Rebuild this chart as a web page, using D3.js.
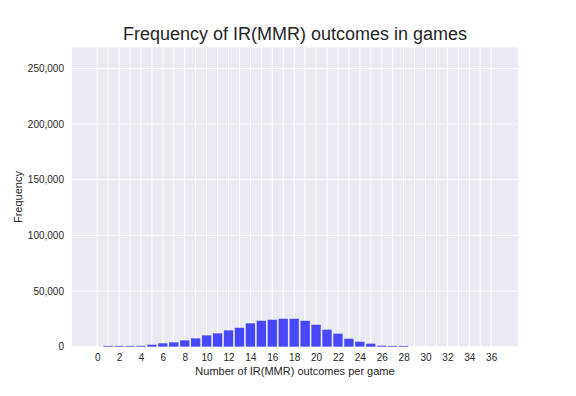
<!DOCTYPE html>
<html>
<head>
<meta charset="utf-8">
<script src="https://cdn.jsdelivr.net/npm/d3@7"></script>
<style>
    body { margin: 0; background: #fff; }
    text { font-family: "Liberation Sans", Arial, sans-serif; fill: #262626; }
</style>
</head>
<body>
<div id="main"></div>
<script>
const ctx = {
    w: 576,
    h: 396,
    left: 72,
    right: 518,
    top: 47.5,
    bottom: 346.7
};

// outcomes per game and how many games had that count
const outcomes = [1, 2, 3, 4, 5, 6, 7, 8, 9, 10, 11, 12, 13, 14, 15, 16, 17, 18,
    19, 20, 21, 22, 23, 24, 25, 26, 27, 28];
const frequency = [700, 700, 700, 800, 1800, 3000, 3900, 5700, 7500, 10200, 12000, 14700,
    17000, 21000, 23300, 24200, 25100, 25100, 23300, 19700, 15300, 11700, 7200,
    4500, 2700, 900, 700, 700];
const xGrid = d3.range(0, 37);
const xTickLabels = d3.range(0, 37, 2);
const yTicks = [0, 50000, 100000, 150000, 200000, 250000];

function createViz() {
    let svgEl = d3.select("#main").append("svg")
        .attr("width", ctx.w)
        .attr("height", ctx.h);

    let x = d3.scaleLinear().domain([-2.3, 38.45]).range([ctx.left, ctx.right]);
    let y = d3.scaleLinear().domain([0, 268800]).range([ctx.bottom, ctx.top]);

    svgEl.append("rect")
        .attr("x", ctx.left)
        .attr("y", ctx.top)
        .attr("width", ctx.right - ctx.left)
        .attr("height", ctx.bottom - ctx.top)
        .attr("fill", "#eaeaf2");

    // grid
    let gridG = svgEl.append("g").attr("id", "grid");
    gridG.selectAll("line.vgrid")
        .data(xGrid)
        .enter()
        .append("line")
        .attr("class", "vgrid")
        .attr("x1", d => x(d)).attr("x2", d => x(d))
        .attr("y1", ctx.top).attr("y2", ctx.bottom)
        .attr("stroke", "#fff")
        .attr("stroke-width", 1);
    gridG.selectAll("line.hgrid")
        .data(yTicks)
        .enter()
        .append("line")
        .attr("class", "hgrid")
        .attr("x1", ctx.left).attr("x2", ctx.right)
        .attr("y1", d => y(d)).attr("y2", d => y(d))
        .attr("stroke", "#fff")
        .attr("stroke-width", 1);

    // bars
    let bw = x(0.85) - x(0);
    svgEl.append("g").attr("id", "bars")
        .selectAll("rect")
        .data(outcomes)
        .enter()
        .append("rect")
        .attr("x", d => x(d) - bw / 2)
        .attr("width", bw)
        .attr("y", (d, i) => y(frequency[i]))
        .attr("height", (d, i) => y(0) - y(frequency[i]))
        .attr("fill", "#0000ff")
        .attr("fill-opacity", 0.7);

    // axes
    let xAxis = d3.axisBottom(x)
        .tickValues(xTickLabels)
        .tickSize(0)
        .tickPadding(7);
    let xG = svgEl.append("g")
        .attr("transform", `translate(0,${ctx.bottom})`)
        .call(xAxis);
    let yAxis = d3.axisLeft(y)
        .tickValues(yTicks)
        .tickFormat(d3.format(","))
        .tickSize(0)
        .tickPadding(8);
    let yG = svgEl.append("g")
        .attr("transform", `translate(${ctx.left},0)`)
        .call(yAxis);
    [xG, yG].forEach(g => {
        g.select(".domain").remove();
        g.selectAll("text")
            .style("font-size", "10px")
            .style("font-family", "'Liberation Sans', Arial, sans-serif")
            .attr("fill", "#262626");
    });

    svgEl.append("text")
        .attr("x", (ctx.left + ctx.right) / 2)
        .attr("y", 40)
        .attr("text-anchor", "middle")
        .style("font-size", "18px")
        .text("Frequency of IR(MMR) outcomes in games");

    svgEl.append("text")
        .attr("x", (ctx.left + ctx.right) / 2)
        .attr("y", 375)
        .attr("text-anchor", "middle")
        .style("font-size", "11px")
        .text("Number of IR(MMR) outcomes per game");

    svgEl.append("text")
        .attr("transform", `translate(22,${(ctx.top + ctx.bottom) / 2}) rotate(-90)`)
        .attr("text-anchor", "middle")
        .style("font-size", "11px")
        .text("Frequency");
}

createViz();
</script>
</body>
</html>
